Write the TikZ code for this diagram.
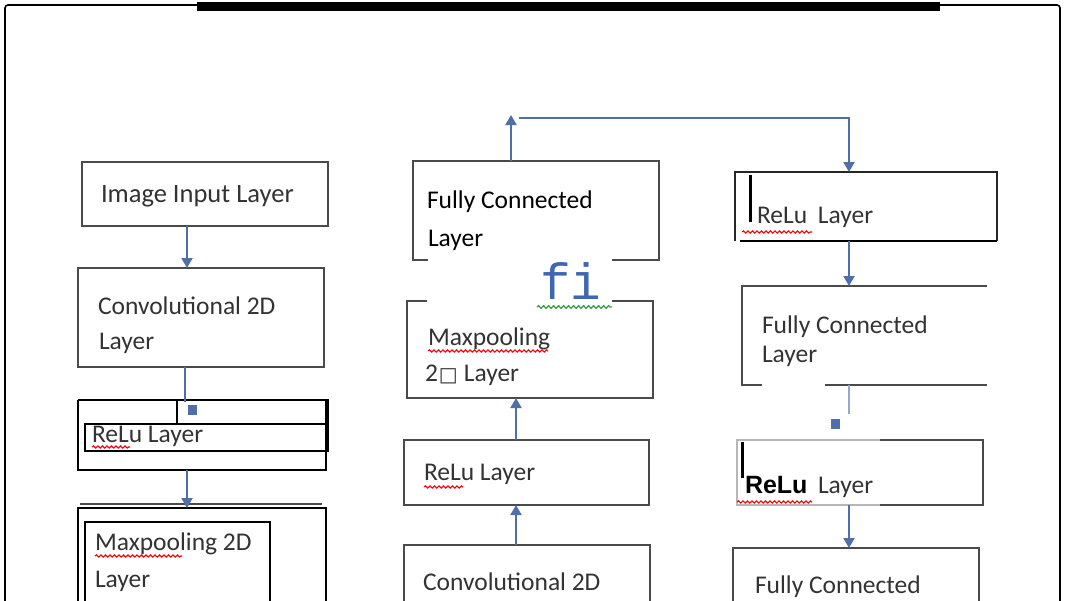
\documentclass[tikz,border=0pt]{standalone}
\usepackage{fontspec}
\setmainfont{Carlito}
\newfontfamily\monofi{Liberation Mono}
\newfontfamily\symf{DejaVu Sans}
\newfontfamily\arialb{Liberation Sans}
\usetikzlibrary{arrows.meta,decorations.pathmorphing}
\definecolor{boxc}{HTML}{4A4A4A}
\definecolor{arrc}{HTML}{4F6FAA}
\definecolor{txt}{HTML}{333333}
\definecolor{fiblue}{HTML}{3F66B5}
\definecolor{wavyg}{HTML}{3DA04A}
\begin{document}
\begin{tikzpicture}[x=1pt,y=-1pt,
  shp/.style={rectangle, inner sep=0pt, outer sep=0pt, anchor=north west},
  bx/.style={shp, draw=boxc, line width=2.2pt},
  bxk/.style={shp, draw=black, line width=2.8pt},
  edge/.style={draw=boxc, line width=2.2pt},
  edgek/.style={draw=black, line width=2.8pt},
  lbl/.style={anchor=base west, inner sep=0pt, outer sep=0pt, text=txt, font=\fontsize{25.5}{25.5}\selectfont},
  arr/.style={draw=arrc, line width=2pt, -{Triangle[width=11pt,length=10pt]}},
  ln/.style={draw=arrc, line width=2pt},
  sq/.style={rectangle, fill=arrc, inner sep=0pt, minimum width=9pt, minimum height=10pt},
  squig/.style={draw=red, line width=1.1pt, decorate, decoration={snake, amplitude=1.1pt, segment length=4.5pt}},
  squigg/.style={draw=wavyg, line width=1.3pt, decorate, decoration={snake, amplitude=1.3pt, segment length=5pt}}]
\useasboundingbox (0,0) rectangle (1070,600);
\clip (0,0) rectangle (1070,600);
\fill[white] (0,0) rectangle (1070,600);
% frame
\draw[black, line width=1.6pt, rounded corners=3pt] (5,640) -- (5,5) -- (1060,5) -- (1060,640);
\fill[black] (197,2) rectangle (940,11);
% column x positions
\coordinate (xL) at (187,0);
\coordinate (xM) at (516,0);
\coordinate (xR) at (849,0);
% ---------- left column ----------
\node[bx, minimum width=246pt, minimum height=64pt] (in) at (82,162) {};
\node[lbl, font=\fontsize{26.5}{26.5}\selectfont] (tin) at (101,202) {Image Input Layer};
\node[bx, minimum width=246pt, minimum height=99pt] (conv1) at (78,268) {};
\node[lbl] (tc1a) at (98,314) {Convolutional 2D};
\node[lbl] (tc1b) at (99,349) {Layer};
\node[shp, minimum width=248pt, minimum height=70pt] (relu1) at (78,400) {};
\node[lbl] (tr1) at (92,442) {ReLu Layer};
\draw[squig] (92,447) -- (130,447);
\draw[edgek] (relu1.north west) -- (relu1.south west) -- (relu1.south east) -- (relu1.north east);
\draw[edgek] (78,400) -- (177,400);
\draw[edgek] (177,424) rectangle (328,400);
\draw[edgek] (85,451) rectangle (328,424);
\node[shp, minimum width=248pt, minimum height=150pt] (max1) at (78,508) {};
\draw[edgek] (max1.south west) -- (max1.north west) -- (max1.north east) -- (max1.south east);
\draw[draw=boxc, line width=1.2pt] (80,504) -- (322,504);
\draw[edgek] (85,660) -- (85,522) -- (270,522) -- (270,660);
\node[lbl] (tm1a) at (95,550) {Maxpooling 2D};
\draw[squig] (95,556) -- (182,556);
\node[lbl] (tm1b) at (95,587) {Layer};
% left connectors
\draw[arr] (in.south -| xL) -- (conv1.north -| xL);
\draw[ln] (conv1.south -| 185,0) -- (185,402);
\node[sq] (sq1) at (192,410) {};
\draw[arr] (relu1.south -| xL) -- (max1.north -| xL);
% ---------- middle column ----------
\node[shp, minimum width=246pt, minimum height=99pt] (fc1) at (413,161) {};
\draw[edge] (428,260) -- (fc1.south west) -- (fc1.north west) -- (fc1.north east) -- (fc1.south east) -- (612,260);
\node[lbl, text=black] (tf1a) at (427,208) {Fully Connected};
\node[lbl, text=black] (tf1b) at (428,246) {Layer};
\node[anchor=base west, inner sep=0pt, text=fiblue, font=\monofi\fontsize{51}{51}\selectfont] (fi) at (540,299) {fi};
\draw[squigg] (537,307) -- (612,307);
\node[shp, minimum width=246pt, minimum height=97pt] (mp2) at (407,301) {};
\draw[edge] (427,301) -- (mp2.north west) -- (mp2.south west) -- (mp2.south east) -- (mp2.north east) -- (612,301);
\node[lbl] (tm2a) at (428,345) {Maxpooling};
\draw[squig] (428,351) -- (548,351);
\node[lbl] (tm2b) at (425,381) {2\hspace{1pt}{\symf\bfseries\fontsize{20}{20}\selectfont □}\hspace{6pt}Layer};
\node[bx, minimum width=245pt, minimum height=65pt] (relu2) at (404,440) {};
\node[lbl] (tr2) at (424,480) {ReLu Layer};
\draw[squig] (424,487) -- (463,487);
\node[bx, minimum width=246pt, minimum height=150pt] (conv2) at (404,545) {};
\node[lbl] (tc2) at (423,590) {Convolutional 2D};
% middle connectors
\draw[arr] (conv2.north -| xM) -- (relu2.south -| xM);
\draw[arr] (relu2.north -| xM) -- (mp2.south -| xM);
\coordinate (tp) at (511,115);
\coordinate (tp2) at (519,118);
\draw[arr] (fc1.north -| tp) -- (tp);
% ---------- right column ----------
\node[shp, minimum width=262pt, minimum height=69pt] (relu3) at (735,172) {};
\draw[edge, draw=black!85] (relu3.south west) -- (relu3.north west) -- (relu3.north east) -- (relu3.south east);
\draw[edgek] (740,241) -- (relu3.south east);
\draw[black, line width=3pt] (750,175) -- (750,222);
\node[lbl] (tr3) at (757,223) {ReLu\hspace{5pt} Layer};
\draw[squig] (742,232) -- (812,232);
\draw[arr] (tp2) -| (relu3.north -| xR);
\node[shp, minimum width=245pt, minimum height=99pt] (fc2) at (742,286) {};
\draw[edge] (fc2.north east) -- (fc2.north west) -- (fc2.south west) -- (762,385);
\draw[edge] (825,385) -- (fc2.south east);
\node[lbl] (tf2a) at (762,333) {Fully Connected};
\node[lbl] (tf2b) at (762,362) {Layer};
\draw[arr] (relu3.south -| xR) -- (fc2.north -| xR);
\draw[draw=arrc!60, line width=1.2pt] (fc2.south -| xR) -- (849,414);
\node[sq] (sq2) at (835,424) {};
\node[shp, minimum width=246pt, minimum height=65pt] (relu4) at (737,440) {};
\draw[draw=boxc!40, line width=1.2pt] (relu4.north west) rectangle (relu4.south east);
\draw[edge] (880,440) -- (relu4.north east) -- (relu4.south east) -- (880,505);
\draw[black, line width=3pt] (742,442) -- (742,478);
\node[lbl, text=black, font=\arialb\bfseries\fontsize{25}{25}\selectfont] (tr4a) at (745,493) {ReLu};
\node[lbl] (tr4b) at (818,493) {Layer};
\draw[squig] (737,502) -- (812,502);
\node[bx, minimum width=246pt, minimum height=150pt] (fc3) at (733,548) {};
\node[lbl] (tf3) at (755,593) {Fully Connected};
\draw[arr] (relu4.south -| xR) -- (fc3.north -| xR);
\end{tikzpicture}
\end{document}
